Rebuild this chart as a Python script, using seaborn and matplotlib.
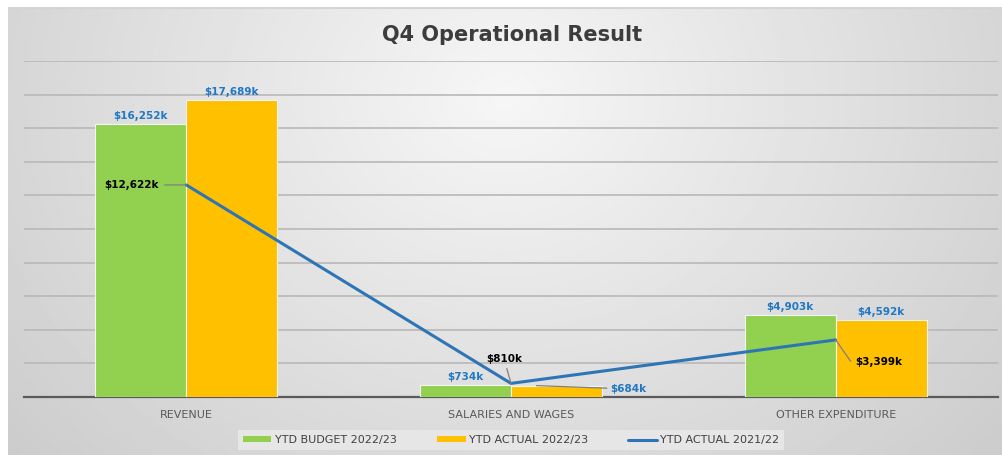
import numpy as np
import pandas as pd
import matplotlib
matplotlib.use("Agg")
import matplotlib.pyplot as plt
from matplotlib.patches import Patch
from matplotlib.lines import Line2D
import seaborn as sns

# ---- data ----
categories = ["REVENUE", "SALARIES AND WAGES", "OTHER EXPENDITURE"]
series_names = ["YTD BUDGET 2022/23", "YTD ACTUAL 2022/23", "YTD ACTUAL 2021/22"]
budget_2223 = [16252, 734, 4903]
actual_2223 = [17689, 684, 4592]
actual_2122 = [12622, 810, 3399]
title = "Q4 Operational Result"

GREEN = "#92D050"
ORANGE = "#FFC000"
BLUE = "#2E75B6"
LABEL_BLUE = "#2178C4"
GRAY_TXT = "#595959"

sns.set_theme(style="white")
plt.rcParams["font.family"] = ["DejaVu Sans"]

W, H = 1003, 455
fig = plt.figure(figsize=(W / 100, H / 100), dpi=100)
fig.patch.set_facecolor("white")

# background panel with soft radial gradient
bg = fig.add_axes([8 / W, 0, 995 / W, 448 / H])
gx = np.linspace(0, 1, 400)
gy = np.linspace(0, 1, 200)
X, Y = np.meshgrid(gx, gy)
r = np.sqrt(((X - 0.5) / 0.6) ** 2 + ((Y - 0.8) / 1.1) ** 2)
val = np.clip(0.965 - 0.15 * r, 0, 1)
bg.imshow(val, cmap="gray", vmin=0, vmax=1, aspect="auto", origin="lower",
          extent=[0, 1, 0, 1], interpolation="bilinear")
bg.set_xlim(0, 1)
bg.set_ylim(0, 1)
bg.set_axis_off()
bg.plot([0, 1], [0.998, 0.998], color="#d4d4d4", lw=1.5, transform=bg.transAxes)

# main axes
ax_left, ax_right = 24, 998
ax_bottom_px, ax_top_px = 397, 61
ax = fig.add_axes([ax_left / W, (H - ax_bottom_px) / H,
                   (ax_right - ax_left) / W, (ax_bottom_px - ax_top_px) / H])
ax.patch.set_alpha(0)

df = pd.DataFrame({
    "category": categories * 2,
    "series": [series_names[0]] * 3 + [series_names[1]] * 3,
    "value": budget_2223 + actual_2223,
})

sns.barplot(data=df, x="category", y="value", hue="series", order=categories,
            hue_order=series_names[:2], palette=[GREEN, ORANGE], width=0.56,
            saturation=1, edgecolor="#f4f4f4", linewidth=0.8, errorbar=None,
            legend=False, ax=ax, zorder=3)

sns.pointplot(x=categories, y=actual_2122, order=categories, color=BLUE,
              markers="", markersize=0, errorbar=None, linewidth=2.2,
              ax=ax, zorder=6)

ax.set_xlim(-0.5, 2.5)
ax.set_ylim(0, 20000)
ax.set_yticks(np.arange(0, 20001, 2000))
ax.set_yticklabels([])
ax.grid(axis="y", color="#b8b8b8", linewidth=1.2, zorder=0)
ax.set_axisbelow(True)
for s in ["top", "right", "left"]:
    ax.spines[s].set_visible(False)
ax.spines["bottom"].set_color("#5a5a5a")
ax.spines["bottom"].set_linewidth(1.6)
ax.set_xlabel("")
ax.set_ylabel("")
ax.tick_params(axis="both", length=0)
ax.tick_params(axis="x", labelsize=8, labelcolor=GRAY_TXT, pad=9)

fmt = lambda v: f"${v:,.0f}k"
LBL = dict(fontsize=7.5, fontweight="bold")

# bar labels
c_budget, c_actual = ax.containers[0], ax.containers[1]
ax.bar_label(c_budget, labels=[fmt(v) for v in budget_2223], padding=2,
             color=LABEL_BLUE, **LBL)
ax.bar_label(c_actual, labels=[fmt(v) if i != 1 else "" for i, v in enumerate(actual_2223)],
             padding=2, color=LABEL_BLUE, **LBL)

# salaries actual label with leader line
b = c_actual.patches[1]
bx = b.get_x() + b.get_width() * 0.25
ax.annotate(fmt(actual_2223[1]), xy=(bx, b.get_height()), xytext=(55, -2.5),
            textcoords="offset points", ha="left", va="center",
            color=LABEL_BLUE, **LBL,
            arrowprops=dict(arrowstyle="-", color="#808080", lw=0.9,
                            shrinkA=0, shrinkB=2), zorder=7)

# line labels
ax.annotate(fmt(actual_2122[0]), xy=(0, actual_2122[0]), xytext=(-20, 0),
            textcoords="offset points", ha="right", va="center",
            color="black", **LBL,
            arrowprops=dict(arrowstyle="-", color="#808080", lw=0.9,
                            shrinkA=2, shrinkB=0), zorder=7)
ax.annotate(fmt(actual_2122[1]), xy=(1, actual_2122[1]), xytext=(-5, 14),
            textcoords="offset points", ha="center", va="bottom",
            color="black", **LBL,
            arrowprops=dict(arrowstyle="-", color="#808080", lw=0.9,
                            shrinkA=1, shrinkB=0), zorder=7)
ax.annotate(fmt(actual_2122[2]), xy=(2, actual_2122[2]), xytext=(14, -16),
            textcoords="offset points", ha="left", va="center",
            color="black", **LBL,
            arrowprops=dict(arrowstyle="-", color="#808080", lw=0.9,
                            shrinkA=1, shrinkB=0,
                            connectionstyle="angle,angleA=0,angleB=-55,rad=0"),
            zorder=7)

# title
fig.text(0.511, (H - 35) / H, title, ha="center", va="center",
         fontsize=15, fontweight="bold", color="#3c3c3c")

# legend
handles = [Patch(facecolor=GREEN, edgecolor="none"),
           Patch(facecolor=ORANGE, edgecolor="none"),
           Line2D([0], [0], color=BLUE, lw=2.2)]
leg = fig.legend(handles, series_names, loc="center", ncol=3,
                 bbox_to_anchor=(511 / W, (H - 440) / H), frameon=True,
                 fontsize=8, handlelength=2.6, handleheight=0.45,
                 columnspacing=3.6, handletextpad=0.3, borderpad=0.45,
                 fancybox=False)
leg.get_frame().set_facecolor("#e8e8e8")
leg.get_frame().set_edgecolor("none")
leg.get_frame().set_alpha(0.9)
for t in leg.get_texts():
    t.set_color("#404040")

fig.savefig("out.png", dpi=100)
